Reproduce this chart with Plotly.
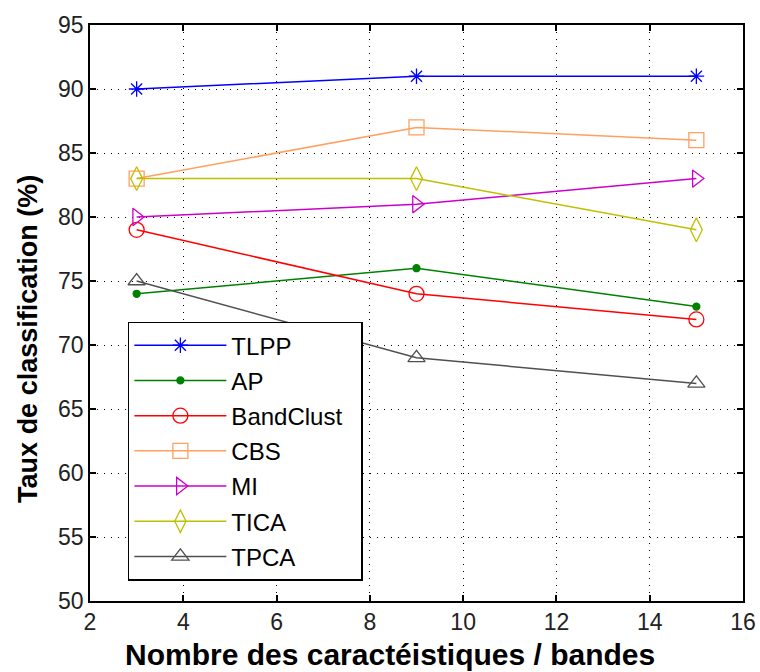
import plotly.graph_objects as go

# Number of selected features / bands
n_features = [3, 9, 15]

# Classification accuracy (%) per method
tlpp = [90, 91, 91]
ap = [74, 76, 73]
bandclust = [79, 74, 72]
cbs = [83, 87, 86]
mi = [80, 81, 83]
tica = [83, 83, 79]
tpca = [75, 69, 67]

x_ticks = [2, 4, 6, 8, 10, 12, 14, 16]
y_ticks = [50, 55, 60, 65, 70, 75, 80, 85, 90, 95]

x_title = "Nombre des caractéistiques / bandes"
y_title = "Taux de classification (%)"

# trailing non-breaking spaces pad the legend box on the right
series = [
    ("TLPP", tlpp, "#0000FF", "asterisk-open", 13),
    ("AP", ap, "#008000", "circle", 7),
    ("BandClust\u00a0\u00a0", bandclust, "#FF0000", "circle-open", 15),
    ("CBS", cbs, "#FFA060", "square-open", 15),
    ("MI", mi, "#CC00CC", "triangle-right-open", 15),
    ("TICA", tica, "#BFBF00", "diamond-tall-open", 17),
    ("TPCA", tpca, "#505050", "triangle-up-open", 15),
]

fig = go.Figure()
for i, (name, vals, color, symbol, size) in enumerate(series):
    fig.add_trace(go.Scatter(
        x=n_features, y=vals, name=name, mode="lines+markers",
        legendgroup=f"g{i}",
        line=dict(color=color, width=1.5),
        marker=dict(symbol=symbol, size=size, color=color,
                    line=dict(color=color, width=1.3)),
    ))

axis_common = dict(
    showline=True, linecolor="black", linewidth=1.5, mirror="ticks",
    ticks="inside", ticklen=6, tickcolor="black", tickwidth=1.5,
    showgrid=True, gridcolor="black", gridwidth=1, griddash="1px,6px",
    zeroline=False, automargin=False,
    tickfont=dict(family="Liberation Sans, Arial", size=23, color="#222222"),
)

title_font = dict(family="Liberation Sans, Arial", color="black")

fig.update_layout(
    width=760, height=672,
    margin=dict(l=90, r=17, t=25, b=71),
    paper_bgcolor="white", plot_bgcolor="white",
    showlegend=True,
    legend=dict(
        x=0.058, y=0.485, xanchor="left", yanchor="top",
        bgcolor="white", bordercolor="black", borderwidth=1.5,
        font=dict(family="Liberation Sans, Arial", size=24, color="black"),
        itemwidth=92, tracegroupgap=1,
    ),
    xaxis=dict(range=[2, 16], tickvals=x_ticks, **axis_common),
    yaxis=dict(range=[50, 95], tickvals=y_ticks, **axis_common),
    annotations=[
        dict(text=f"<b>{x_title}</b>", xref="paper", yref="paper",
             x=0.459, y=-0.093, xanchor="center", yanchor="middle",
             showarrow=False, font=dict(size=30, **title_font)),
        dict(text=f"<b>{y_title}</b>", xref="paper", yref="paper",
             x=-0.095, y=0.455, xanchor="center", yanchor="middle",
             textangle=-90, showarrow=False, font=dict(size=27, **title_font)),
    ],
)

fig.write_html("out.html")
